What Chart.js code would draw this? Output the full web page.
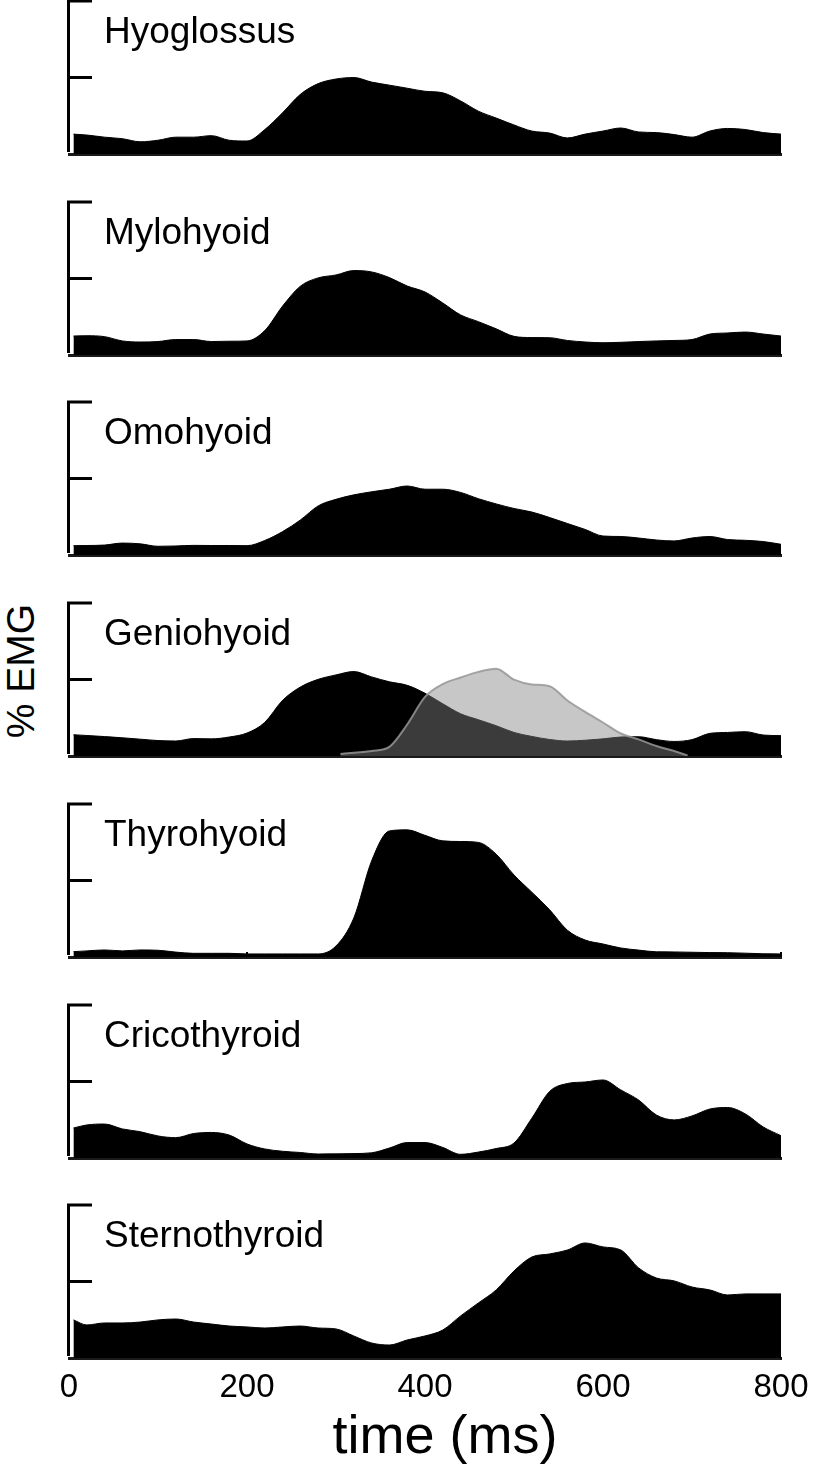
<!DOCTYPE html>
<html>
<head>
<meta charset="utf-8">
<title>EMG by muscle</title>
<script src="https://cdn.jsdelivr.net/npm/chart.js@4.4.1/dist/chart.umd.min.js"></script>
<style>
  html, body { margin: 0; padding: 0; background: #fff; }
  body { position: relative; width: 813px; height: 1465px; overflow: hidden; }
  canvas.panel { position: absolute; left: 0; }
  .axlab {
    position: absolute; color: #000; white-space: nowrap; line-height: 1;
    font-family: "Liberation Sans", Arial, sans-serif;
  }
  #ylab { left: 20px; top: 671px; font-size: 39px; transform: translate(-50%, -50%) rotate(-90deg); }
  #xlab { left: 445px; top: 1434px; font-size: 54px; transform: translate(-50%, -50%); }
</style>
</head>
<body>
<div id="ylab" class="axlab">% EMG</div>
<div id="xlab" class="axlab">time (ms)</div>
<script>
/* ── data (time in ms, EMG in % of panel range) ── */
const TIME = [5, 20, 40, 60, 80, 100, 120, 140, 160, 180, 200, 220, 240, 260, 280, 300, 320, 340, 360, 380, 400,
              420, 440, 460, 480, 500, 520, 540, 560, 580, 600, 620, 640, 660, 680, 700, 720, 740, 760, 780, 800];

const HYOGLOSSUS   = [13, 12.4, 11, 10, 8, 9, 11, 11, 12, 9, 8.5, 16, 27, 39, 46, 49, 50, 47, 45, 43, 41,
                      40, 34.7, 28, 23.5, 19, 15, 13.7, 10.5, 13, 15, 17, 14.4, 14, 12.7, 11, 15, 16.7, 16, 14, 13];
const MYLOHYOID    = [12.4, 12.6, 12, 9.2, 8.5, 8.8, 10.1, 10.1, 8.8, 9, 9.2, 16, 32, 45, 50.4, 52.3, 55.2, 54.3, 50.6, 45.1, 41.2,
                      34, 26.2, 21.8, 17.1, 12.2, 11.4, 11.3, 9.5, 8.5, 8, 8.3, 8.8, 9.2, 9.5, 10.1, 13.7, 14.4, 15, 13.7, 12.4];
const OMOHYOID     = [6.1, 6.2, 6.5, 7.8, 7.3, 5.7, 5.9, 6.3, 6.2, 6.2, 6.1, 9.5, 15.3, 22.9, 32.1, 36.4, 39.3, 41.3, 43, 45.1, 43,
                      43, 40.9, 36.8, 33.4, 30.4, 28.1, 24.5, 20.6, 16.7, 12.4, 12.1, 11.1, 9.8, 9.2, 11.1, 12.1, 10.1, 9.6, 8.8, 7];
const GENIOHYOID   = [13.9, 13.4, 12.7, 11.9, 11, 10.1, 9.8, 11.4, 11.2, 12.4, 15, 22, 36.4, 45.1, 50.1, 53, 55.2, 51.7, 48.5, 46.2, 41,
                      34.1, 27.6, 23.7, 19.8, 15.4, 12.8, 10.8, 9.8, 10.3, 11.2, 12.4, 12.6, 10.7, 9.5, 10.7, 14.8, 15.4, 15.9, 13.7, 13.3];
const THYROHYOID   = [3.5, 4, 4.6, 4, 4.6, 4.4, 3.2, 2.4, 2.4, 2.4, 2, 2, 2, 2, 2, 7.2, 25.5, 62.8, 82.4, 83.1, 79.5,
                      75.9, 75.5, 74.9, 67.2, 53.6, 42.4, 30.9, 17.5, 11.1, 8.5, 5.9, 4.5, 3.4, 3.3, 3.1, 2.9, 2.8, 2.5, 2.1, 2];
const CRICOTHYROID = [19.6, 21.6, 22.2, 19, 17.2, 14.4, 13.3, 16, 16.7, 15, 9.2, 5.9, 4.4, 3.6, 2.6, 2.7, 2.9, 3.4, 6.5, 10.1, 10.1,
                      6.9, 2.4, 3.9, 6.2, 9.8, 26, 43.5, 48.7, 49.7, 51, 44.5, 37.9, 28.1, 24.9, 27.5, 32, 33, 28.8, 20.3, 14.6];
const STERNOTHYROID = [24.9, 21.6, 22.9, 22.9, 23.5, 24.9, 25.5, 23.5, 22.2, 20.9, 20.3, 19.6, 20.3, 20.9, 19.6, 19, 14.4, 9.8, 8.5, 11.8, 14.4,
                       18.3, 27.5, 36, 44.5, 56.9, 66, 68, 70.6, 75.2, 72.6, 70.6, 58.9, 52.3, 50.4, 46.4, 44.5, 41.2, 41.9, 41.9, 41.9];

// second (grey) geniohyoid trace
const GENIO_LATE_TIME = [305, 340, 360, 380, 400, 420, 440, 460, 480, 500, 520, 540, 560, 580, 600, 620, 640, 660, 680, 695];
const GENIO_LATE      = [1.3, 3.3, 6, 20.6, 38.6, 47, 51.3, 55, 57, 49.9, 46.8, 45.6, 36.3, 28.8, 21.9, 14.7, 10.9, 6.5, 3.3, 0.3];

const MUSCLES  = ['Hyoglossus', 'Mylohyoid', 'Omohyoid', 'Geniohyoid', 'Thyrohyoid', 'Cricothyroid', 'Sternothyroid'];
const SERIES   = [HYOGLOSSUS, MYLOHYOID, OMOHYOID, GENIOHYOID, THYROHYOID, CRICOTHYROID, STERNOTHYROID];
const X_TICKS  = [0, 200, 400, 600, 800];
const Y_TICKS  = [50, 100];
const THYRO_MARKS = [200, 800];

/* ── layout ── */
const W = 813, LEFT = 69, RIGHT = 781;
const TOP0 = 1, STEP = 200.7, AREA_H = 153, PAD_T = 10, PAD_B = 12;
const FONT = '"Liberation Sans", Arial, Helvetica, sans-serif';

const toPts = (xs, ys) => xs.map((t, i) => ({ x: t, y: ys[i] }));

/* bracket-style y axis with inward ticks, panel name, odd minor marks */
const emgFrame = {
  id: 'emgFrame',
  afterDraw(chart, args, opts) {
    const { ctx, chartArea: a, scales: { x, y } } = chart;
    ctx.save();
    ctx.strokeStyle = '#000';
    ctx.lineWidth = 3;
    ctx.beginPath();
    ctx.moveTo(a.left - 0.5, y.getPixelForValue(0) - 2);
    ctx.lineTo(a.left - 0.5, y.getPixelForValue(100) - 1.5);
    Y_TICKS.forEach(v => {
      const py = y.getPixelForValue(v);
      ctx.moveTo(a.left - 2, py);
      ctx.lineTo(a.left + 23, py);
    });
    ctx.stroke();

    (opts.marks || []).forEach(v => {
      const px = x.getPixelForValue(v);
      ctx.lineWidth = 2;
      ctx.beginPath();
      ctx.moveTo(px, a.bottom);
      ctx.lineTo(px, a.bottom - 5);
      ctx.stroke();
    });

    ctx.fillStyle = '#000';
    ctx.font = '37px ' + FONT;
    ctx.textBaseline = 'alphabetic';
    ctx.fillText(opts.label, a.left + 35, a.top + 42);
    ctx.restore();
  }
};

MUSCLES.forEach((name, i) => {
  const last = i === MUSCLES.length - 1;
  const areaTop = Math.round(TOP0 + i * STEP);
  const cTop = areaTop - PAD_T;
  const cH = last ? 1465 - cTop : PAD_T + AREA_H + PAD_B;

  const cv = document.createElement('canvas');
  cv.className = 'panel';
  cv.width = W; cv.height = cH;
  cv.style.top = cTop + 'px';
  cv.style.width = W + 'px'; cv.style.height = cH + 'px';
  document.body.appendChild(cv);

  const datasets = [{
    data: toPts(TIME, SERIES[i]),
    borderColor: '#000',
    borderWidth: 1,
    backgroundColor: '#000',
    fill: 'origin',
    pointRadius: 0,
    cubicInterpolationMode: 'monotone',
    order: 1
  }];
  if (name === 'Geniohyoid') {
    datasets.push({
      data: toPts(GENIO_LATE_TIME, GENIO_LATE),
      borderColor: 'rgba(150,150,150,0.85)',
      borderWidth: 2,
      backgroundColor: 'rgba(130,130,130,0.45)',
      fill: 'origin',
      pointRadius: 0,
      cubicInterpolationMode: 'monotone',
      order: 0
    });
  }

  new Chart(cv.getContext('2d'), {
    type: 'line',
    data: { datasets },
    options: {
      responsive: false,
      animation: false,
      devicePixelRatio: 1,
      layout: { padding: { left: LEFT, right: W - RIGHT, top: PAD_T, bottom: last ? 0 : PAD_B } },
      plugins: {
        legend: { display: false },
        tooltip: { enabled: false },
        emgFrame: { label: name, marks: name === 'Thyrohyoid' ? THYRO_MARKS : [] }
      },
      scales: {
        x: {
          type: 'linear', min: 0, max: 800,
          grid: { display: false, drawTicks: false },
          border: { display: true, color: '#1a1a1a', width: 3 },
          afterBuildTicks: s => { s.ticks = X_TICKS.map(v => ({ value: v })); },
          ticks: { display: last, color: '#000', padding: 10, font: { family: FONT, size: 33 } },
          afterFit: s => {
            s.paddingLeft = 0; s.paddingRight = 0;
            if (last) s.height = cH - PAD_T - AREA_H;
          }
        },
        y: {
          display: false, min: 0, max: 100
        }
      }
    },
    plugins: [emgFrame]
  });
});
</script>
</body>
</html>
